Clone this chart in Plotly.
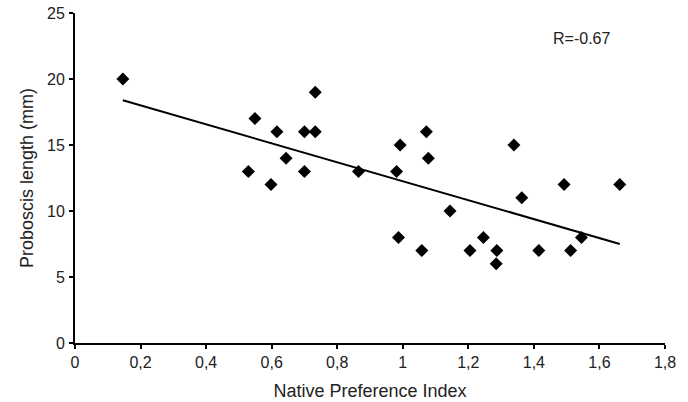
import numpy as np
import plotly.graph_objects as go

# Data
native_pref_index = [0.146, 0.529, 0.549, 0.598, 0.616, 0.644, 0.700, 0.700, 0.733, 0.733,
                     0.865, 0.981, 0.992, 0.987, 1.058, 1.072, 1.078, 1.144, 1.205, 1.246,
                     1.287, 1.285, 1.339, 1.363, 1.415, 1.492, 1.512, 1.545, 1.662]
proboscis_mm = [20, 13, 17, 12, 16, 14, 13, 16, 16, 19,
                13, 13, 15, 8, 7, 16, 14, 10, 7, 8,
                7, 6, 15, 11, 7, 12, 7, 8, 12]
x_ticks = [0, 0.2, 0.4, 0.6, 0.8, 1.0, 1.2, 1.4, 1.6, 1.8]
y_ticks = [0, 5, 10, 15, 20, 25]
r_label = "R=-0.67"

x = np.array(native_pref_index)
y = np.array(proboscis_mm)
slope, intercept = np.polyfit(x, y, 1)
xl = np.array([x.min(), x.max()])
yl = slope * xl + intercept

font = "Liberation Sans, Arial, sans-serif"

fig = go.Figure()
fig.add_trace(go.Scatter(x=xl, y=yl, mode="lines",
                         line=dict(color="black", width=2), hoverinfo="skip"))
fig.add_trace(go.Scatter(x=x, y=y, mode="markers",
                         marker=dict(symbol="diamond", size=10, color="black")))

fig.update_layout(
    width=688, height=402,
    margin=dict(l=75, r=23, t=13, b=59, autoexpand=False),
    paper_bgcolor="white", plot_bgcolor="white",
    showlegend=False,
    separators=", ",
    font=dict(family=font, size=16, color="#222"),
    annotations=[dict(x=0.859, y=0.924, xref="paper", yref="paper", text=r_label,
                      xanchor="center", yanchor="middle",
                      showarrow=False, font=dict(size=16, family=font, color="#222"))],
)
fig.update_xaxes(range=[0, 1.8], tickvals=x_ticks, showline=True, linecolor="black",
                 linewidth=2, ticks="outside", ticklen=4, tickwidth=2, tickcolor="black",
                 showgrid=False, zeroline=False,
                 title=dict(text="Native Preference Index", font=dict(size=18), standoff=14),
                 tickfont=dict(size=16))
fig.update_yaxes(range=[0, 25], tickvals=y_ticks, showline=True, linecolor="black",
                 linewidth=2, ticks="outside", ticklen=4, tickwidth=2, tickcolor="black",
                 showgrid=False, zeroline=False, ticklabelstandoff=1,
                 title=dict(text="Proboscis length (mm)", font=dict(size=18), standoff=9),
                 tickfont=dict(size=16))

fig.write_html("out.html", config={"displayModeBar": False},
               post_script="document.body.style.margin='0';document.body.style.padding='0';")
